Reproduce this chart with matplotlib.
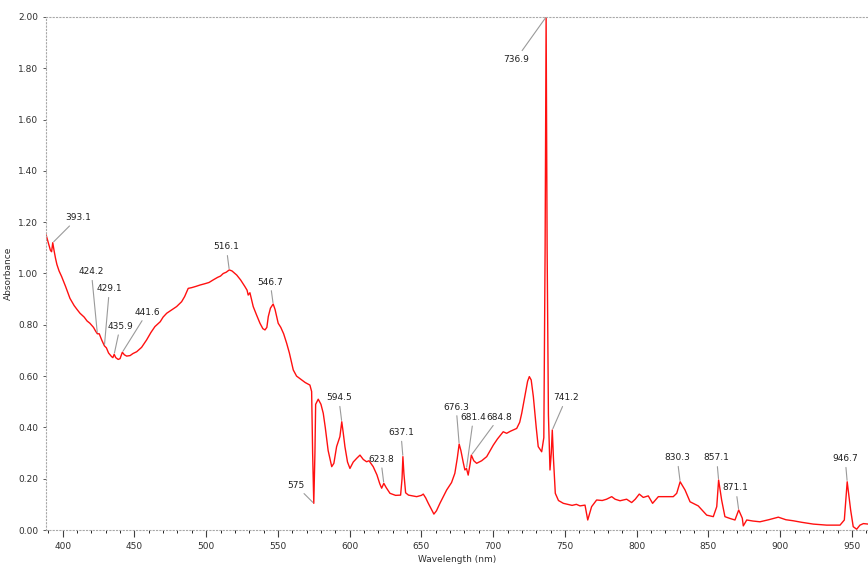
import matplotlib
matplotlib.use("Agg")
import matplotlib.pyplot as plt
from matplotlib.ticker import MultipleLocator, FormatStrFormatter
import numpy as np

# spectrum (nm, absorbance)
wavelength = [
    388.5, 389.5, 390.5, 391.5, 392.3, 393.1, 394.0, 395.0, 396.0, 397.5,
    399.3, 402.0, 405.1, 408.0, 410.0, 412.1, 415.0, 417.0, 419.0, 421.5,
    423.0, 424.2, 425.5, 427.2, 429.1, 430.5, 432.0, 434.1, 435.0, 435.9,
    437.0, 438.7, 440.0, 441.6, 443.0, 444.6, 447.0, 449.0, 451.6, 455.0,
    458.5, 461.5, 464.3, 468.0, 470.0, 472.5, 476.0, 479.4, 482.9, 485.0,
    487.5, 490.0, 493.0, 495.7, 499.0, 502.0, 504.9, 508.0, 510.0, 511.9,
    514.0, 516.1, 518.0, 521.3, 524.0, 527.0, 528.5, 529.3, 530.5, 532.8,
    535.0, 537.5, 539.5, 541.0, 542.3, 543.3, 544.8, 546.7, 548.0, 550.2,
    552.0, 554.0, 556.1, 558.0, 560.7, 563.0, 566.6, 569.0, 572.3, 573.5,
    574.2, 575.0, 575.8, 576.3, 578.1, 580.0, 581.6, 583.0, 585.0, 587.5,
    589.0, 590.9, 593.2, 594.5, 595.5, 596.7, 598.5, 600.2, 602.5, 605.0,
    607.2, 609.5, 611.8, 613.5, 616.4, 619.0, 621.0, 622.3, 623.8, 625.5,
    628.1, 632.0, 635.5, 636.5, 637.1, 637.8, 639.0, 641.0, 646.7, 650.0,
    651.3, 653.0, 654.8, 657.0, 658.7, 660.5, 662.9, 667.6, 671.0, 673.3,
    675.0, 676.3, 677.5, 679.2, 680.3, 681.4, 682.6, 684.0, 684.8, 686.5,
    688.5, 692.0, 695.5, 700.1, 703.0, 707.0, 709.4, 712.0, 716.4, 718.5,
    719.9, 722.0, 724.0, 725.2, 726.5, 728.0, 730.0, 731.4, 733.8, 735.3,
    736.2, 736.9, 737.6, 738.5, 739.6, 740.5, 741.2, 742.0, 743.3, 745.5,
    748.9, 752.0, 755.0, 758.0, 760.5, 764.0, 765.9, 768.6, 772.1, 776.0,
    779.0, 782.6, 785.0, 788.4, 793.0, 796.5, 799.0, 801.8, 804.6, 808.1,
    811.1, 815.1, 820.0, 825.5, 827.9, 830.3, 833.7, 837.2, 842.9, 848.8,
    853.4, 855.8, 857.1, 859.2, 861.5, 865.0, 868.5, 871.1, 873.6, 874.3,
    876.7, 881.0, 885.9, 892.0, 898.7, 904.0, 909.1, 915.0, 923.1, 932.4,
    941.7, 944.7, 946.7, 949.1, 950.9, 953.3, 955.6, 958.0, 961.5,
]
absorbance = [
    1.150, 1.130, 1.110, 1.090, 1.085, 1.120, 1.090, 1.060, 1.035, 1.010,
    0.988, 0.950, 0.903, 0.875, 0.860, 0.845, 0.830, 0.815, 0.806, 0.790,
    0.775, 0.765, 0.765, 0.741, 0.718, 0.710, 0.690, 0.676, 0.672, 0.685,
    0.672, 0.665, 0.668, 0.693, 0.683, 0.678, 0.680, 0.688, 0.695, 0.712,
    0.741, 0.770, 0.793, 0.812, 0.830, 0.845, 0.858, 0.871, 0.890, 0.910,
    0.942, 0.945, 0.950, 0.955, 0.960, 0.965, 0.975, 0.985, 0.990, 1.000,
    1.005, 1.014, 1.010, 0.994, 0.975, 0.949, 0.935, 0.916, 0.925, 0.871,
    0.840, 0.806, 0.785, 0.780, 0.790, 0.832, 0.865, 0.881, 0.860, 0.806,
    0.790, 0.765, 0.728, 0.690, 0.624, 0.600, 0.585, 0.575, 0.565, 0.540,
    0.300, 0.104, 0.300, 0.490, 0.510, 0.490, 0.455, 0.400, 0.310, 0.247,
    0.260, 0.325, 0.364, 0.422, 0.380, 0.325, 0.265, 0.240, 0.265, 0.280,
    0.292, 0.275, 0.266, 0.270, 0.247, 0.215, 0.180, 0.163, 0.182, 0.165,
    0.143, 0.135, 0.136, 0.200, 0.286, 0.220, 0.145, 0.136, 0.130, 0.135,
    0.140, 0.125, 0.104, 0.080, 0.062, 0.075, 0.104, 0.156, 0.185, 0.221,
    0.280, 0.335, 0.310, 0.262, 0.234, 0.240, 0.214, 0.260, 0.292, 0.270,
    0.260, 0.270, 0.286, 0.331, 0.355, 0.383, 0.377, 0.385, 0.396, 0.420,
    0.455, 0.520, 0.580, 0.598, 0.585, 0.520, 0.400, 0.325, 0.305, 0.360,
    1.100, 2.000, 1.100, 0.450, 0.234, 0.300, 0.390, 0.280, 0.143, 0.115,
    0.104, 0.100, 0.096, 0.100, 0.094, 0.097, 0.039, 0.091, 0.117, 0.115,
    0.120, 0.130, 0.120, 0.114, 0.120, 0.107, 0.120, 0.140, 0.127, 0.133,
    0.104, 0.130, 0.130, 0.130, 0.143, 0.188, 0.156, 0.110, 0.094, 0.058,
    0.052, 0.091, 0.195, 0.117, 0.052, 0.045, 0.039, 0.078, 0.046, 0.016,
    0.039, 0.035, 0.032, 0.040, 0.050, 0.040, 0.036, 0.030, 0.023, 0.019,
    0.019, 0.039, 0.188, 0.078, 0.013, 0.003, 0.019, 0.025, 0.023,
]

# peak labels
peaks = [393.1, 424.2, 429.1, 435.9, 441.6, 516.1, 546.7, 575, 594.5, 623.8,
         637.1, 676.3, 681.4, 684.8, 736.9, 741.2, 830.3, 857.1, 871.1, 946.7]
peak_text = ["393.1", "424.2", "429.1", "435.9", "441.6", "516.1", "546.7", "575",
             "594.5", "623.8", "637.1", "676.3", "681.4", "684.8", "736.9", "741.2",
             "830.3", "857.1", "871.1", "946.7"]
# where the label sits relative to the peak (pixels)
label_offsets = [(25, 25), (-6, 62), (5, 57), (6, 28), (25, 40), (-3, 23), (-3, 22),
                 (-18, 18), (-3, 24), (-3, 24), (-2, 24), (-3, 37), (7, 51), (28, 38),
                 (-30, -42), (14, 32), (-3, 24), (-2, 22), (-3, 22), (-2, 23)]

fig = plt.figure(figsize=(8.68, 5.66), dpi=100)
ax = fig.add_axes([46 / 868, 36 / 566, 822 / 868, 513 / 566])

ax.plot(wavelength, absorbance, color="#ff1010", lw=1.0)

for wl, txt, off in zip(peaks, peak_text, label_offsets):
    yv = np.interp(wl, wavelength, absorbance)
    ax.annotate(txt, xy=(wl, yv), xytext=off, textcoords="offset pixels",
                ha="center", va="center", fontsize=6.5, color="#202020",
                arrowprops=dict(arrowstyle="-", color="#9a9a9a", lw=0.8,
                                shrinkA=1, shrinkB=1))

ax.set_xlim(388.4, 961.2)
ax.set_ylim(0, 2.0)
ax.xaxis.set_major_locator(MultipleLocator(50))
ax.xaxis.set_minor_locator(MultipleLocator(10))
ax.yaxis.set_major_locator(MultipleLocator(0.2))
ax.yaxis.set_major_formatter(FormatStrFormatter("%.2f"))

# dotted light frame like the original software
for side in ["left", "top", "bottom"]:
    ax.spines[side].set_linestyle((0, (1, 2)))
    ax.spines[side].set_color("#a8a8a8")
    ax.spines[side].set_linewidth(0.8)
ax.spines["right"].set_visible(False)

ax.tick_params(axis="both", labelsize=6.5, labelcolor="#303030", color="#404040")
ax.tick_params(axis="x", which="major", length=5, width=0.8)
ax.tick_params(axis="x", which="minor", length=2, width=0.6)
ax.tick_params(axis="y", which="major", length=2, width=0.6)

ax.set_xlabel("Wavelength (nm)", fontsize=6.5, color="#303030", labelpad=3)
ax.set_ylabel("Absorbance", fontsize=6.5, color="#303030", labelpad=4)

fig.savefig("out.png", dpi=100)
